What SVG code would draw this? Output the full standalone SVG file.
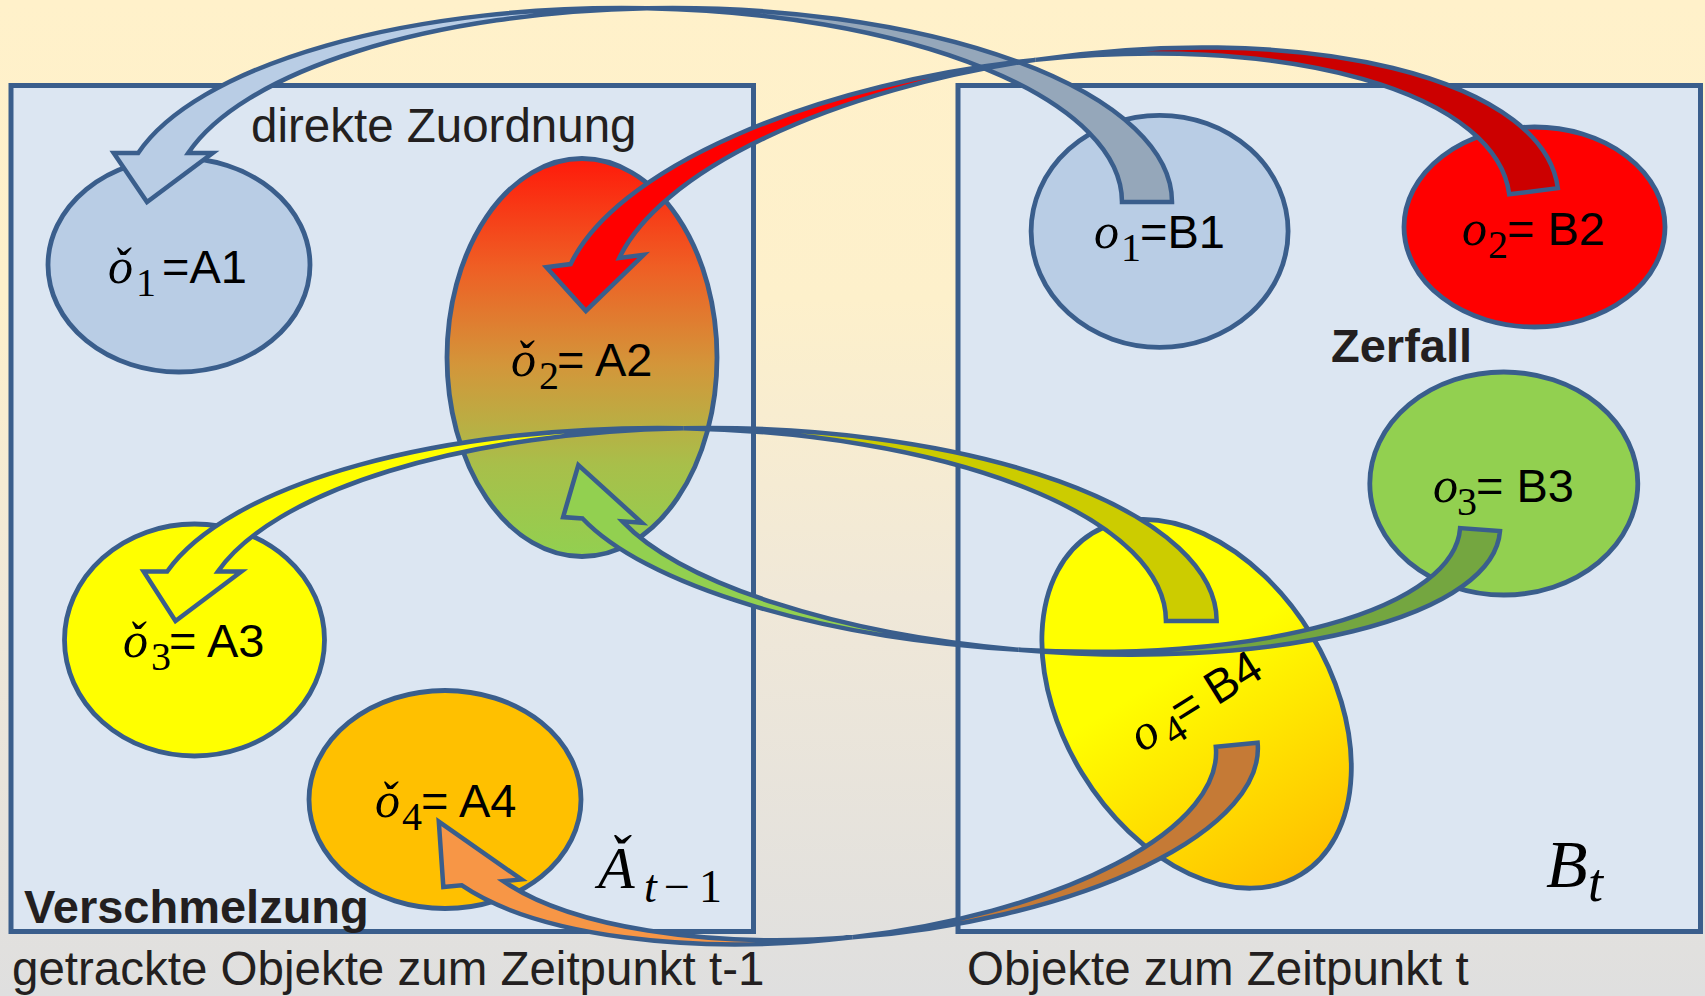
<svg xmlns="http://www.w3.org/2000/svg" width="1705" height="996" viewBox="0 0 1705 996">
<defs>
<linearGradient id="bg" x1="0" y1="0" x2="0" y2="1">
<stop offset="0" stop-color="#FFF1CA"/>
<stop offset="0.3" stop-color="#FDF0CB"/>
<stop offset="0.6" stop-color="#F0E8D8"/>
<stop offset="1" stop-color="#DFDFDF"/>
</linearGradient>
<linearGradient id="gA2" x1="0" y1="0" x2="0" y2="1">
<stop offset="0" stop-color="#FF1A0A"/>
<stop offset="0.27" stop-color="#EF5E24"/>
<stop offset="0.52" stop-color="#D3963A"/>
<stop offset="0.77" stop-color="#A8BF4A"/>
<stop offset="1" stop-color="#92D050"/>
</linearGradient>
<linearGradient id="gB4" x1="0.5" y1="0.4" x2="0.5" y2="1">
<stop offset="0" stop-color="#FFFF00"/>
<stop offset="1" stop-color="#FFC000"/>
</linearGradient>
<style>
.box{fill:#DCE6F2;stroke:#3A5E8C;stroke-width:5}
.nd{stroke:#3A5E8C;stroke-width:4.8}
.ar{stroke:#3A5E8C;stroke-width:4.5;stroke-linejoin:miter;stroke-miterlimit:6}
.lab{font-family:"Liberation Sans",Arial,sans-serif;font-size:47px;fill:#000}
.var{font-family:"Liberation Serif","DejaVu Serif",serif;font-style:italic;font-size:50px}
.sub{font-family:"Liberation Serif","DejaVu Serif",serif;font-style:normal;font-size:40px}
.cap{font-family:"Liberation Sans",Arial,sans-serif;font-size:47.5px;fill:#231F20}
.bold{font-weight:bold;font-size:47px}
.math{font-family:"Liberation Serif","DejaVu Serif",serif;fill:#000}
</style>
</defs>
<rect x="0" y="0" width="1705" height="996" fill="url(#bg)"/>
<g id="box-left"><rect class="box" x="11" y="85.5" width="742.5" height="846"/></g>
<g id="box-right"><rect class="box" x="958" y="85.5" width="742.5" height="846"/></g>

<g id="A1">
<ellipse class="nd" cx="179" cy="265" rx="131" ry="107" fill="#B9CDE5"/>
<text class="lab"><tspan class="var" x="108" y="283">ǒ</tspan><tspan class="sub" x="136" y="296">1</tspan><tspan x="162" y="283">=A1</tspan></text>
</g>
<g id="A2">
<ellipse class="nd" cx="582" cy="357.5" rx="135" ry="199" fill="url(#gA2)"/>
<text class="lab"><tspan class="var" x="511" y="376">ǒ</tspan><tspan class="sub" x="539" y="389">2</tspan><tspan x="557" y="376">= A2</tspan></text>
</g>
<g id="A3">
<ellipse class="nd" cx="194.5" cy="640" rx="130" ry="116" fill="#FFFF00"/>
<text class="lab"><tspan class="var" x="123" y="657">ǒ</tspan><tspan class="sub" x="151" y="670">3</tspan><tspan x="169" y="657">= A3</tspan></text>
</g>
<g id="A4">
<ellipse class="nd" cx="445" cy="799.5" rx="136" ry="109" fill="#FFC000"/>
<text class="lab"><tspan class="var" x="375" y="817">ǒ</tspan><tspan class="sub" x="402" y="830">4</tspan><tspan x="421" y="817">= A4</tspan></text>
</g>
<g id="B1">
<ellipse class="nd" cx="1159.6" cy="231.3" rx="128.5" ry="116" fill="#B9CDE5"/>
<text class="lab"><tspan class="var" x="1094" y="248">o</tspan><tspan class="sub" x="1121" y="261">1</tspan><tspan x="1140" y="248">=B1</tspan></text>
</g>
<g id="B2">
<ellipse class="nd" cx="1534.5" cy="227" rx="130.5" ry="100" fill="#FF0000"/>
<text class="lab"><tspan class="var" x="1462" y="245">o</tspan><tspan class="sub" x="1488" y="258">2</tspan><tspan x="1507" y="245">= B2</tspan></text>
</g>
<g id="B3">
<ellipse class="nd" cx="1503.8" cy="483.5" rx="134" ry="111.5" fill="#92D050"/>
<text class="lab"><tspan class="var" x="1433" y="502">o</tspan><tspan class="sub" x="1457" y="515">3</tspan><tspan x="1476" y="502">= B3</tspan></text>
</g>
<g id="B4">
<ellipse class="nd" cx="0" cy="0" rx="134" ry="200" fill="url(#gB4)" transform="translate(1196.6,703.8) rotate(-31.4)"/>
<text class="lab" transform="translate(1142,753) rotate(-32)"><tspan class="var" x="0" y="0">o</tspan><tspan class="sub" x="30" y="11">4</tspan><tspan x="48" y="0">= B4</tspan></text>
</g>

<g id="connectors">
<g id="arrow-B1-A1" transform="translate(647,202)">
<path class="ar" fill="#95A7BA" d="M0,-193.76 A500,194 0 0 1 525,0 L475,0 A500,194 0 0 0 0,-193.76 Z"/>
<path class="ar" fill="#B9CDE5" d="M0,-193.76 A500,194 0 0 0 -508.8,-49 L-533.3,-49 L-500,0 L-434.3,-49 L-458.8,-49 A500,194 0 0 1 0,-193.76 Z"/>
</g>
<g id="arrow-B2-A2" transform="translate(1059.7,251.1) rotate(-7.2)">
<path class="ar" fill="#CC0000" d="M0,-192.75 A477.6,193 0 0 1 502.1,0 L453.1,0 A477.6,193 0 0 0 0,-192.75 Z"/>
<path class="ar" fill="#FF0000" d="M0,-192.75 A477.6,193 0 0 0 -486.8,-48.4 L-511.3,-48.4 L-477.6,0 L-413.3,-48.4 L-437.8,-48.4 A477.6,193 0 0 1 0,-192.75 Z"/>
</g>
<g id="arrow-B4-A3" transform="translate(683.4,621)">
<path class="ar" fill="#CCCC00" d="M0,-192.76 A507.9,193 0 0 1 533.25,0 L482.55,0 A507.9,193 0 0 0 0,-192.76 Z"/>
<path class="ar" fill="#FFFF00" d="M0,-192.76 A507.9,193 0 0 0 -516.25,-49.5 L-539.75,-49.5 L-507.9,0 L-442.05,-49.5 L-465.55,-49.5 A507.9,193 0 0 1 0,-192.76 Z"/>
</g>
<g id="arrow-B3-A2" transform="translate(1029.2,497.3) rotate(4.09) scale(1,-1)">
<path class="ar" fill="#74A640" d="M0,-152.85 A452,153 0 0 1 472,0 L432,0 A452,153 0 0 0 0,-152.85 Z"/>
<path class="ar" fill="#92D050" d="M0,-152.85 A452,153 0 0 0 -444,-53 L-463.5,-53 L-452,0 L-384.5,-53 L-404,-53 A452,153 0 0 1 0,-152.85 Z"/>
</g>
<g id="arrow-B4-A4" transform="translate(837.75,783.2) rotate(-5.5) scale(1,-1)">
<path class="ar" fill="#C57A36" d="M0,-154.79 A400.8,155 0 0 1 421.8,0 L379.8,0 A400.8,155 0 0 0 0,-154.79 Z"/>
<path class="ar" fill="#F79646" d="M0,-154.79 A400.8,155 0 0 0 -384.3,-65.5 L-402.55,-65.5 L-400.8,0 L-324.05,-65.5 L-342.3,-65.5 A400.8,155 0 0 1 0,-154.79 Z"/>
</g>
</g>

<g id="texts">
<text class="cap" x="251" y="141.7">direkte Zuordnung</text>
<text class="cap bold" x="1331" y="361.7">Zerfall</text>
<text class="cap bold" x="24" y="923.3">Verschmelzung</text>
<text class="cap" x="12" y="985">getrackte Objekte zum Zeitpunkt t-1</text>
<text class="cap" x="967" y="985">Objekte zum Zeitpunkt t</text>
<text class="math"><tspan x="598" y="888" font-style="italic" font-size="60">Ǎ</tspan><tspan x="644" y="902" font-style="italic" font-size="46">t</tspan><tspan x="664" y="902" font-size="46">−</tspan><tspan x="699" y="902" font-size="46">1</tspan></text>
<text class="math"><tspan x="1546" y="887" font-style="italic" font-size="68">B</tspan><tspan x="1588" y="901" font-style="italic" font-size="54">t</tspan></text>
</g>
</svg>
